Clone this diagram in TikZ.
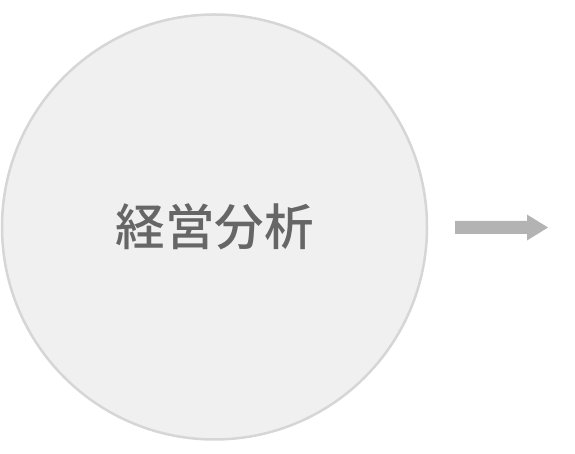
\documentclass[tikz,border=0pt]{standalone}
\usepackage{fontspec}
\newfontfamily\cjk{Noto Sans CJK JP Medium}
\definecolor{circfill}{HTML}{F0F0F0}
\definecolor{circline}{HTML}{D6D6D6}
\definecolor{txtgray}{HTML}{666666}
\definecolor{arrgray}{HTML}{B3B3B3}
\begin{document}
\begin{tikzpicture}[x=1pt,y=1pt,
  bubble/.style={circle,fill=circfill,draw=circline,line width=2.5pt,minimum size=425pt,inner sep=0pt,
    font=\cjk\fontsize{49.5}{58}\selectfont,text=txtgray},
  bigarrow/.style={fill=arrgray,draw=none}]
\useasboundingbox (0,0) rectangle (575,454);
\node[bubble] (c) at (214.5,227) {経営分析};
\coordinate (a0) at (455,226.5);
\fill[arrgray] (a0) ++(0,-6.5) -- ++(72,0) -- ++(0,-6.5) -- ++(21,13) -- ++(-21,13) -- ++(0,-6.5) -- ++(-72,0) -- cycle;
\end{tikzpicture}
\end{document}
